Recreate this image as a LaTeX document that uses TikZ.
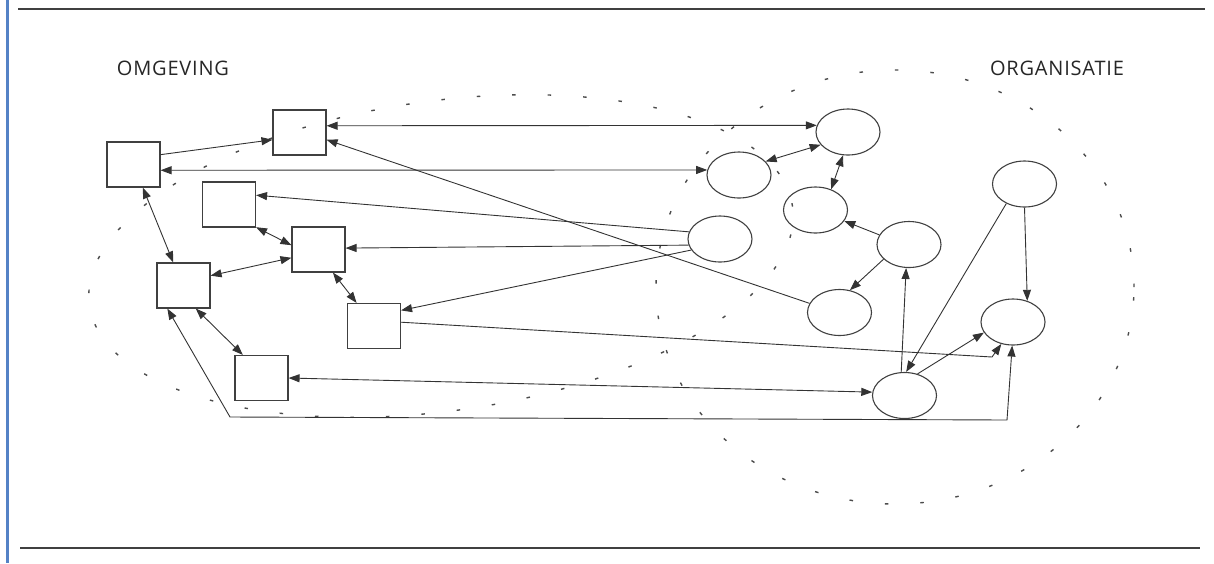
\documentclass[tikz,border=0pt]{standalone}
\usepackage{fontspec}
\usepackage{tikz}
\usetikzlibrary{
	shapes.geometric,
	arrows.meta
}
\newfontfamily\kopfont[LetterSpace=4]{Open Sans}
\definecolor{kantlijn}{RGB}{84,130,198}

\begin{document}
\begin{tikzpicture}[x=1pt,y=-1pt,
		omg/.style={rectangle,draw=black!75,line width=1.1pt,inner sep=0pt,minimum width=53pt,minimum height=45pt},
		org/.style={ellipse,draw=black!75,line width=1.1pt,inner sep=0pt,minimum width=64pt,minimum height=46pt},
		kop/.style={font=\kopfont\fontsize{20}{22}\selectfont,text=black!85},
		pijl/.style={draw=black!80,line width=0.9pt,-{Triangle[length=11pt,width=8pt]}},
		tweepijl/.style={pijl,{Triangle[length=11pt,width=8pt]}-{Triangle[length=11pt,width=8pt]}},
		grens/.style={draw=black!70,line width=1.4pt,dash pattern=on 3.5pt off 32pt}
	]
		\useasboundingbox (0,0) rectangle (1214,563);

		\draw[kantlijn,line width=3pt] (7,0) -- (7,563);
		\draw[black!75,line width=1.6pt] (18,9) -- (1205,9);
		\draw[black!75,line width=1.6pt] (20,548) -- (1200,548);

		\draw[grens,rotate around={8:(441,256)}] (441,256) ellipse [x radius=355pt,y radius=155pt];
		\draw[grens] (895,287) ellipse [x radius=239pt,y radius=217pt];

		\node[kop] (omgeving) at (173,68) {OMGEVING};
		\node[kop] (organisatie) at (1057,68) {ORGANISATIE};

		\node[omg] (s1) at (133.5,164.5) {};
		\node[omg] (s2) at (299.5,132.5) {};
		\node[omg] (s3) at (229,204.5) {};
		\node[omg] (s4) at (318.5,249.5) {};
		\node[omg] (s5) at (183.5,285.5) {};
		\node[omg] (s6) at (374,326) {};
		\node[omg] (s7) at (261.5,378) {};

		\node[org] (c1) at (848,132) {};
		\node[org] (c2) at (739,175) {};
		\node[org] (c3) at (815.5,210) {};
		\node[org] (c4) at (720,239) {};
		\node[org] (c5) at (909,244.5) {};
		\node[org] (c6) at (839.5,312.5) {};
		\node[org] (c7) at (904.5,395.5) {};
		\node[org] (c8) at (1013,322) {};
		\node[org] (c9) at (1024.5,184) {};

		\coordinate (k1) at (230,417);
		\coordinate (k2) at (1007,420);
		\coordinate (k3) at (992,357);

		\draw[pijl] (s1.20) -- (s2.195);
		\draw[tweepijl] (s2.14) -- (c1.168);
		\draw[tweepijl] (s1.348) -- (c2.171);
		\draw[pijl] (c6.163) -- (s2.345);
		\draw[pijl] (c4.167) -- (s3.19);
		\draw[pijl] (c4.191) -- (s4.3);
		\draw[pijl] (c4.201) -- (s6.30);
		\draw[tweepijl] (s1.292) -- (s5.114);
		\draw[tweepijl] (s3.320) -- (s4.171);
		\draw[tweepijl] (s5.20) -- (s4.197);
		\draw[tweepijl] (s4.302) -- (s6.127);
		\draw[tweepijl] (s5.298) -- (s7.129);
		\draw[tweepijl] (s7.east) -- (c7.174);
		\draw[tweepijl] (s5.235) -- (k1) -- (k2) -- (c8.268);
		\draw[pijl] (s6.8) -- (k3) -- (c8.242);

		\draw[tweepijl] (c2.27) -- (c1.205);
		\draw[tweepijl] (c1.258) -- (c3.53);
		\draw[pijl] (c5.162) -- (c3.339);
		\draw[pijl] (c5.210) -- (c6.65);
		\draw[pijl] (c7.98) -- (c5.263);
		\draw[pijl] (c9.227) -- (c7.86);
		\draw[pijl] (c9.270) -- (c8.56);
		\draw[pijl] (c7.59) -- (c8.200);
	\end{tikzpicture}
\end{document}
